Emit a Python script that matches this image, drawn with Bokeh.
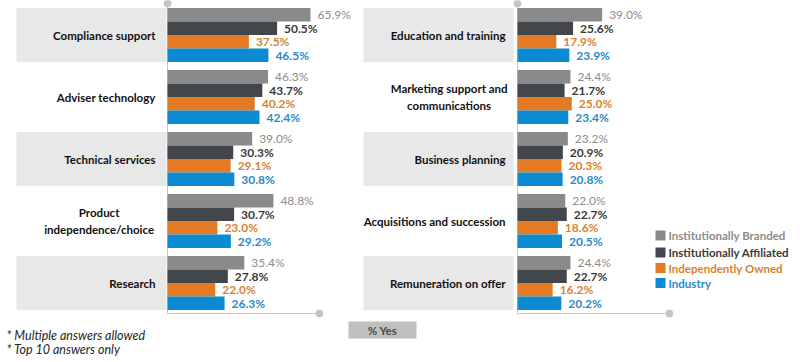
from bokeh.plotting import figure
from bokeh.models import ColumnDataSource, Range1d
from bokeh.transform import dodge
from bokeh.core.properties import value
from bokeh.embed import file_html
from bokeh.resources import INLINE

# ---------------- data ----------------
left_categories = ["Compliance support", "Adviser technology", "Technical services",
                   "Product\nindependence/choice", "Research"]
right_categories = ["Education and training", "Marketing support and\ncommunications",
                    "Business planning", "Acquisitions and succession", "Remuneration on offer"]
series_names = ["Institutionally Branded", "Institutionally Affiliated",
                "Independently Owned", "Industry"]
inst_branded = [65.9, 46.3, 39.0, 48.8, 35.4, 39.0, 24.4, 23.2, 22.0, 24.4]
inst_affiliated = [50.5, 43.7, 30.3, 30.7, 27.8, 25.6, 21.7, 20.9, 22.7, 22.7]
indep_owned = [37.5, 40.2, 29.1, 23.0, 22.0, 17.9, 25.0, 20.3, 18.6, 16.2]
industry = [46.5, 42.4, 30.8, 29.2, 26.3, 23.9, 23.4, 20.8, 20.5, 20.2]
axis_max = 70
footnotes = ["* Multiple answers allowed", "* Top 10 answers only"]
axis_title = "% Yes"

# ---------------- layout helpers (image px -> data units) ----------------
SX = 2.17   # px per percent
SY = 62.0   # px per row
def X(px):
    return (px - 167) / SX
def Y(py):
    return -(py - 34.5) / SY

OFF = X(517)  # right panel zero
BAR_H = 13.5 / SY
FONT = value("Lato")

bar_colors = ["#8a8a8a", "#43474b", "#e57a25", "#0d8bd2"]
text_colors = ["#8c8c8c", "#3a3a3a", "#d9822f", "#2a8ac8"]
text_styles = ["normal", "bold", "bold", "bold"]

p = figure(width=800, height=362, x_range=Range1d(X(0), X(800)),
           y_range=Range1d(Y(362), Y(0)), output_backend="svg",
           toolbar_location=None, x_axis_location=None, y_axis_location=None,
           min_border=0, min_border_left=0, min_border_right=0,
           min_border_top=0, min_border_bottom=0)
p.grid.visible = False
p.outline_line_color = None
p.background_fill_color = "white"

n_left = len(left_categories)
rows = list(range(n_left)) + list(range(len(right_categories)))
ys = [-r for r in rows]
offs = [0.0] * n_left + [OFF] * len(right_categories)

# ---------------- label bands ----------------
band_rows = [r for r in range(n_left) if r % 2 == 0]
p.hbar(y=[-r for r in band_rows], left=X(16), right=X(166), height=54 / SY,
       color="#e8e8e8", line_color=None)
p.hbar(y=[-r for r in band_rows], left=X(363), right=X(513), height=54 / SY,
       color="#e8e8e8", line_color=None)

# ---------------- axis lines ----------------
for o in [0.0, OFF]:
    p.segment(x0=[o, o], y0=[Y(3), Y(313)], x1=[o, o + axis_max], y1=[Y(313), Y(313)],
              line_color="#c8c8c8", line_width=1)
    p.scatter(x=[o, o + axis_max], y=[Y(3), Y(313)], size=7, color="#c4c4c4")

# ---------------- bars ----------------
all_series = [inst_branded, inst_affiliated, indep_owned, industry]
for j, vals in enumerate(all_series):
    dy = (1.5 - j) * BAR_H
    src = ColumnDataSource(dict(
        y=ys, left=offs, right=[o + v for o, v in zip(offs, vals)],
        label=[f"{v:.1f}%" for v in vals]))
    p.hbar(y=dodge("y", dy), left="left", right="right", height=BAR_H,
           color=bar_colors[j], line_color=None, source=src)
    p.text(x="right", y=dodge("y", dy), text="label", source=src, x_offset=7,
           text_align="left", text_baseline="middle", text_font=FONT,
           text_font_size="12px", text_font_style=text_styles[j],
           text_color=text_colors[j])

# ---------------- category labels ----------------
cats = left_categories + right_categories
single = [(c, y, o) for c, y, o in zip(cats, ys, offs) if "\n" not in c]
multi = [(c, y, o) for c, y, o in zip(cats, ys, offs) if "\n" in c]
p.text(x=[o - 5.5 for c, y, o in single], y=[y for c, y, o in single],
       text=[c for c, y, o in single], text_align="right", text_baseline="middle",
       text_font=FONT, text_font_size="11.5px", text_font_style="bold",
       text_color="#111111")
p.text(x=[o - 31.5 for c, y, o in multi], y=[y for c, y, o in multi],
       text=[c for c, y, o in multi], text_align="center", text_baseline="middle",
       text_font=FONT, text_font_size="11.5px", text_font_style="bold",
       text_color="#111111", text_line_height=1.3)

# ---------------- legend ----------------
leg_y = [235, 252, 267.5, 282.5]
p.scatter(x=[X(660)] * 4, y=[Y(v) for v in leg_y], marker="square", size=10,
          color=bar_colors, line_color=None)
p.text(x=[X(668)] * 4, y=[Y(v) for v in leg_y], text=series_names,
       text_align="left", text_baseline="middle", text_font=FONT,
       text_font_size="11.5px", text_font_style="bold", text_color=text_colors)

# ---------------- axis title box ----------------
p.quad(left=X(348), right=X(416), bottom=Y(338), top=Y(321), color="#bfbfbf",
       line_color=None)
p.text(x=[X(382)], y=[Y(329.5)], text=[axis_title], text_align="center",
       text_baseline="middle", text_font=FONT, text_font_size="11.5px",
       text_font_style="bold", text_color="#4a4a4a")

# ---------------- footnotes ----------------
p.text(x=[X(6)] * 2, y=[Y(335), Y(349)], text=footnotes, text_align="left",
       text_baseline="middle", text_font=FONT, text_font_size="12.5px",
       text_font_style="italic", text_color="#262626")

open("out.html", "w").write(file_html(p, INLINE))
